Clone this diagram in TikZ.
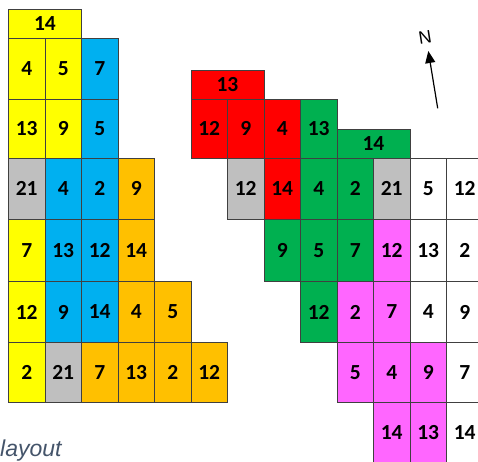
\documentclass[tikz,border=0pt]{standalone}
\usepackage{fontspec}
\setmainfont{Carlito}
\newfontfamily\capfont{Liberation Sans}
\usetikzlibrary{arrows.meta}
\definecolor{cYel}{HTML}{FFFF00}
\definecolor{cBlu}{HTML}{00B0F0}
\definecolor{cOra}{HTML}{FFC000}
\definecolor{cGry}{HTML}{BFBFBF}
\definecolor{cRed}{HTML}{FF0000}
\definecolor{cGrn}{HTML}{00B050}
\definecolor{cMag}{HTML}{FF66FF}
\definecolor{cWht}{HTML}{FFFFFF}
\definecolor{cLine}{HTML}{404040}
\definecolor{cCap}{HTML}{44546A}
\tikzset{
  cellbox/.style={draw=cLine, line width=0.9pt, inner sep=0pt, anchor=north west,
    font=\fontsize{21.5}{25}\selectfont\bfseries, text=black},
  captxt/.style={font=\capfont\itshape\fontsize{23}{27}\selectfont, text=cCap, inner sep=0pt, anchor=base west},
  northtxt/.style={font=\capfont\fontsize{18}{20}\selectfont, inner sep=0pt, rotate=9},
  northarrow/.style={line width=1.2pt, -{Triangle[length=12pt,width=10pt]}}
}
% name, col, ytop, ncols, height, fill, text
\newcommand{\cel}[7]{\node[cellbox, fill=#6, minimum width={#4*36.5pt}, minimum height={#5pt}] (#1) at ({8+36.5*#2},{#3}) {#7};}
\begin{document}
\begin{tikzpicture}[x=1pt,y=-1pt]
\useasboundingbox (0,0) rectangle (478,461);
% left block
\cel{L14}{0}{9}{2}{29}{cYel}{14}
\cel{La}{0}{38}{1}{60.5}{cYel}{4}
\cel{Lb}{1}{38}{1}{60.5}{cYel}{5}
\cel{Lc}{2}{38}{1}{60.5}{cBlu}{7}
\cel{Ld}{0}{98.5}{1}{59}{cYel}{13}
\cel{Le}{1}{98.5}{1}{59}{cYel}{9}
\cel{Lf}{2}{98.5}{1}{59}{cBlu}{5}
\cel{Lg}{0}{157.5}{1}{61.5}{cGry}{21}
\cel{Lh}{1}{157.5}{1}{61.5}{cBlu}{4}
\cel{Li}{2}{157.5}{1}{61.5}{cBlu}{2}
\cel{Lj}{3}{157.5}{1}{61.5}{cOra}{9}
\cel{Lk}{0}{219}{1}{62}{cYel}{7}
\cel{Ll}{1}{219}{1}{62}{cBlu}{13}
\cel{Lm}{2}{219}{1}{62}{cBlu}{12}
\cel{Ln}{3}{219}{1}{62}{cOra}{14}
\cel{Lo}{0}{281}{1}{61}{cYel}{12}
\cel{Lp}{1}{281}{1}{61}{cBlu}{9}
\cel{Lq}{2}{281}{1}{61}{cBlu}{14}
\cel{Lr}{3}{281}{1}{61}{cOra}{4}
\cel{Ls}{4}{281}{1}{61}{cOra}{5}
\cel{Lt}{0}{342}{1}{60}{cYel}{2}
\cel{Lu}{1}{342}{1}{60}{cGry}{21}
\cel{Lv}{2}{342}{1}{60}{cOra}{7}
\cel{Lw}{3}{342}{1}{60}{cOra}{13}
\cel{Lx}{4}{342}{1}{60}{cOra}{2}
\cel{Ly}{5}{342}{1}{60}{cOra}{12}
% right block
\cel{R13}{5}{69.5}{2}{29}{cRed}{13}
\cel{Ra}{5}{98.5}{1}{59}{cRed}{12}
\cel{Rb}{6}{98.5}{1}{59}{cRed}{9}
\cel{Rc}{7}{98.5}{1}{59}{cRed}{4}
\cel{Rd}{8}{98.5}{1}{59}{cGrn}{13}
\cel{R14}{9}{128.5}{2}{29}{cGrn}{14}
\cel{Re}{6}{157.5}{1}{61.5}{cGry}{12}
\cel{Rf}{7}{157.5}{1}{61.5}{cRed}{14}
\cel{Rg}{8}{157.5}{1}{61.5}{cGrn}{4}
\cel{Rh}{9}{157.5}{1}{61.5}{cGrn}{2}
\cel{Ri}{10}{157.5}{1}{61.5}{cGry}{21}
\cel{Rj}{11}{157.5}{1}{61.5}{cWht}{5}
\cel{Rk}{12}{157.5}{1}{61.5}{cWht}{12}
\cel{Rl}{7}{219}{1}{62}{cGrn}{9}
\cel{Rm}{8}{219}{1}{62}{cGrn}{5}
\cel{Rn}{9}{219}{1}{62}{cGrn}{7}
\cel{Ro}{10}{219}{1}{62}{cMag}{12}
\cel{Rp}{11}{219}{1}{62}{cWht}{13}
\cel{Rq}{12}{219}{1}{62}{cWht}{2}
\cel{Rr}{8}{281}{1}{61}{cGrn}{12}
\cel{Rs}{9}{281}{1}{61}{cMag}{2}
\cel{Rt}{10}{281}{1}{61}{cMag}{7}
\cel{Ru}{11}{281}{1}{61}{cWht}{4}
\cel{Rv}{12}{281}{1}{61}{cWht}{9}
\cel{Rw}{9}{342}{1}{60}{cMag}{5}
\cel{Rx}{10}{342}{1}{60}{cMag}{4}
\cel{Ry}{11}{342}{1}{60}{cMag}{9}
\cel{Rz}{12}{342}{1}{60}{cWht}{7}
\cel{RA}{10}{402}{1}{61}{cMag}{14}
\cel{RB}{11}{402}{1}{61}{cMag}{13}
\cel{RC}{12}{402}{1}{61}{cWht}{14}
% north arrow
\node[northtxt] (ntext) at (425,37) {N};
\coordinate (ntail) at (437.7,108.3);
\coordinate (ntip) at (428.3,51);
\draw[northarrow] (ntail) -- (ntip);
% caption fragment
\node[captxt] (cap) at (0,456) {layout};
\end{tikzpicture}
\end{document}
